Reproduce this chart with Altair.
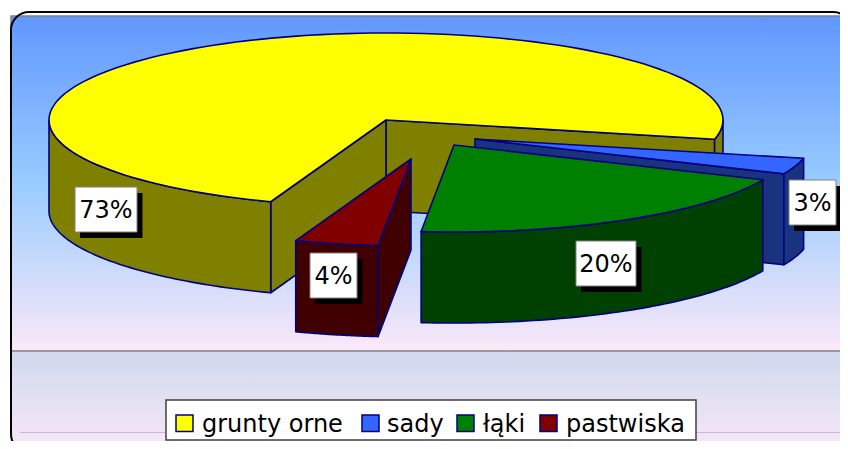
import math
import altair as alt
import pandas as pd

# ---- values ----
categories = ["grunty orne", "sady", "łąki", "pastwiska"]
percent = [73, 3, 20, 4]
labels = ["73%", "3%", "20%", "4%"]

# ---- styles ----
top_colors = ["#FFFF00", "#3366FF", "#008000", "#800000"]
wall_colors = ["#808000", "#1A337F", "#004000", "#400000"]
edge = "#000080"

# ---- pie model (projected 3D pie) ----
cx, cy, rx, ry, depth = 386, 120, 337, 87, 91
start_angle = 110.0
explode = [(0, 0), (89, 19), (68, 25), (25, 39)]

# label boxes: left, top, right, bottom
label_boxes = [(75, 187, 137, 232), (789, 180, 836, 225), (576, 241, 636, 286), (310, 253, 357, 298)]
# legend layout
legend_box = (166, 400, 696, 440)
swatch_x = [176, 362, 457, 540]
legend_text_x = [202, 387, 483, 566]

X = alt.X("x:Q", scale=alt.Scale(domain=[8, 840], nice=False, zero=False), axis=None)
Y = alt.Y("y:Q", scale=alt.Scale(domain=[441, 8], nice=False, zero=False), axis=None)


def rect(x0, y0, x1, y1, **kw):
    df = pd.DataFrame([{"x": x0, "y": y0, "x1": x1, "y1": y1}])
    return alt.Chart(df).mark_rect(**kw).encode(x=X, y=Y, x2="x1:Q", y2="y1:Q")


def hline(x0, x1, y, color, width):
    df = pd.DataFrame([{"x": x0, "x1": x1, "y": y}])
    return alt.Chart(df).mark_rule(color=color, strokeWidth=width).encode(x=X, x2="x1:Q", y=Y)


def poly(points, fill, stroke=edge, width=1.6):
    df = pd.DataFrame([{"x": p[0], "y": p[1], "i": i} for i, p in enumerate(points)])
    return alt.Chart(df).mark_line(
        interpolate="linear-closed", fill=fill, stroke=stroke, strokeWidth=width, strokeJoin="round"
    ).encode(x=X, y=Y, order=alt.Order("i:Q"))


def text(x, y, s, size, align="left"):
    df = pd.DataFrame([{"x": x, "y": y, "t": s}])
    return alt.Chart(df).mark_text(
        font="DejaVu Sans", fontSize=size, align=align, baseline="alphabetic", color="#000000"
    ).encode(x=X, y=Y, text="t:N")


def pt(t, off, dz=0):
    a = math.radians(t)
    return (cx + off[0] + rx * math.cos(a), cy + off[1] + ry * math.sin(a) + dz)


def arc(t0, t1, off, dz=0, n=60):
    return [pt(t0 + (t1 - t0) * k / n, off, dz) for k in range(n + 1)]


def outer_wall(t0, t1, off):
    return arc(t0, t1, off) + arc(t1, t0, off, depth)


def cut_face(t, off):
    ax, ay = cx + off[0], cy + off[1]
    return [(ax, ay), pt(t, off), pt(t, off, depth), (ax, ay + depth)]


def sector(t0, t1, off):
    return [(cx + off[0], cy + off[1])] + arc(t0, t1, off, n=120)


# angles from the values
angles = []
a = start_angle
for v in percent:
    angles.append((a, a + v * 3.6))
    a += v * 3.6

layers = []

# --- background ---
lower_grad = alt.LinearGradient(
    gradient="linear", x1=0, x2=0, y1=0, y2=1,
    stops=[alt.GradientStop(offset=0, color="#FFFFFF"), alt.GradientStop(offset=0.775, color="#D0D9EE"),
           alt.GradientStop(offset=1, color="#F9E8F8")],
)
layers.append(rect(11, 12, 851, 452, cornerRadius=18, fill=lower_grad))
plot_grad = alt.LinearGradient(
    gradient="linear", x1=0, x2=0, y1=0, y2=1,
    stops=[alt.GradientStop(offset=0, color="#6197FF"), alt.GradientStop(offset=0.5, color="#99CCFF"),
           alt.GradientStop(offset=1, color="#FBE8F8")],
)
layers.append(rect(11, 16, 847.5, 351, fill=plot_grad, stroke="#808080", strokeWidth=1.5))
layers.append(hline(20, 840, 432.5, "#C8B8D0", 1))
layers.append(rect(11, 12, 851, 452, cornerRadius=18, fill="transparent", stroke="#000000", strokeWidth=2))

# --- yellow slice ---
y0, y1 = angles[0]
off = explode[0]
layers.append(poly(cut_face(y1, off), wall_colors[0]))
layers.append(poly(cut_face(y0, off), wall_colors[0]))
layers.append(poly(outer_wall(y0, 180, off), wall_colors[0]))
layers.append(poly(outer_wall(360, y1, off), wall_colors[0]))
layers.append(poly(sector(y0, y1, off), top_colors[0]))

# --- blue slice ---
b0, b1 = angles[1]
off = explode[1]
layers.append(poly(cut_face(b1 - 360, off), wall_colors[1]))
layers.append(poly(outer_wall(b0, b1, off), wall_colors[1]))
layers.append(poly(sector(b0, b1, off), top_colors[1]))

# --- green slice ---
g0, g1 = angles[2]
off = explode[2]
layers.append(poly(outer_wall(g0, g1, off), wall_colors[2]))
layers.append(poly(sector(g0, g1, off), top_colors[2]))

# --- red slice ---
r0, r1 = angles[3]
off = explode[3]
layers.append(poly(cut_face(r0, off), wall_colors[3]))
layers.append(poly(outer_wall(r0, r1, off), wall_colors[3]))
layers.append(poly(sector(r0, r1, off), top_colors[3]))

# --- data labels ---
for (l, t, r, b), s in zip(label_boxes, labels):
    layers.append(rect(l + 5, t + 6, r + 5.5, b + 6, fill="#000000"))
    layers.append(rect(l, t, r, b, fill="#FFFFFF", stroke="#808080", strokeWidth=1))
    layers.append(text((l + r) / 2, (t + b) / 2 + 8.5, s, 24, "center"))

# --- legend ---
l, t, r, b = legend_box
layers.append(rect(l, t, r, b, fill="#FFFFFF", stroke="#404040", strokeWidth=1.5))
for name, col, sx, tx in zip(categories, top_colors, swatch_x, legend_text_x):
    layers.append(rect(sx, 415, sx + 17, 431.5, fill=col, stroke=edge, strokeWidth=1.5))
    layers.append(text(tx, 432, name, 24))

chart = alt.layer(*layers).properties(
    width=832, height=433, padding=0, autosize=alt.AutoSizeParams(type="none"),
    background="#FFFFFF",
).configure_view(stroke=None)

chart.save("out.html", embed_options={"renderer": "svg", "actions": False})
